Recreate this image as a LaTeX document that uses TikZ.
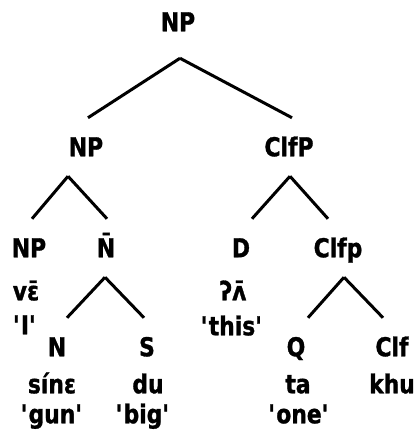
\documentclass[tikz,border=0pt]{standalone}
\usepackage{fontspec}
\usepackage{tikz}
\newfontfamily\treefont{DejaVu Sans}[FakeStretch=0.84, BoldFeatures={FakeBold=1.2}]
\newcommand\gloss[1]{\textquotesingle#1\textquotesingle}
\tikzset{
  lbl/.style={font={\treefont\bfseries\fontsize{26}{30}\selectfont},
    inner sep=0pt, text height=18.5pt, text depth=0pt},
  cat/.style={lbl, outer xsep=0pt, outer ysep=20pt},
  branch/.style={line width=3pt}
}

\begin{document}
\begin{tikzpicture}[x=1pt, y=-1pt]
  \useasboundingbox (0,0) rectangle (420,442);
  % categories
  \node[cat, outer ysep=27pt] (np1) at (178,22) {NP};
  \node[cat] (np2)  at (86,147)  {NP};
  \node[cat] (clfP) at (289,147) {ClfP};
  \node[cat] (np3)  at (29,248)  {NP};
  \node[cat] (nbar) at (106,248) {N̄};
  \node[cat] (d)    at (241,248) {D};
  \node[cat] (clfp) at (338,248) {Clfp};
  \node[cat] (n)    at (57,347)  {N};
  \node[cat] (s)    at (147,347) {S};
  \node[cat] (q)    at (296,347) {Q};
  \node[cat] (clf)  at (392,347) {Clf};
  % words and glosses
  \foreach \name/\x/\y/\txt in {%
      ve/26/291/vɛ̄, gI/25/325/\gloss{I},
      glot/233/291/ʔʌ̄, gthis/232/326/\gloss{this},
      sine/52/384/sínɛ, du/148/384/du, ta/298/384/ta, khu/392/384/khu,
      ggun/52/414/\gloss{gun}, gbig/143/414/\gloss{big}, gone/299/414/\gloss{one}
    }
    \node[lbl] (\name) at (\x,\y) {\txt};
  % branches
  \foreach \p/\px/\c/\cx in {%
      np1/2/np2/2, np1/2/clfP/3,
      np2/-18/np3/3, np2/-18/nbar/1,
      clfP/1/d/11, clfP/1/clfp/-10,
      nbar/-1/n/10, nbar/-1/s/-3,
      clfp/6/q/12, clfp/6/clf/-9
    }
    \draw[branch] ([xshift=\px pt]\p.south) -- ([xshift=\cx pt]\c.north);
\end{tikzpicture}
\end{document}
